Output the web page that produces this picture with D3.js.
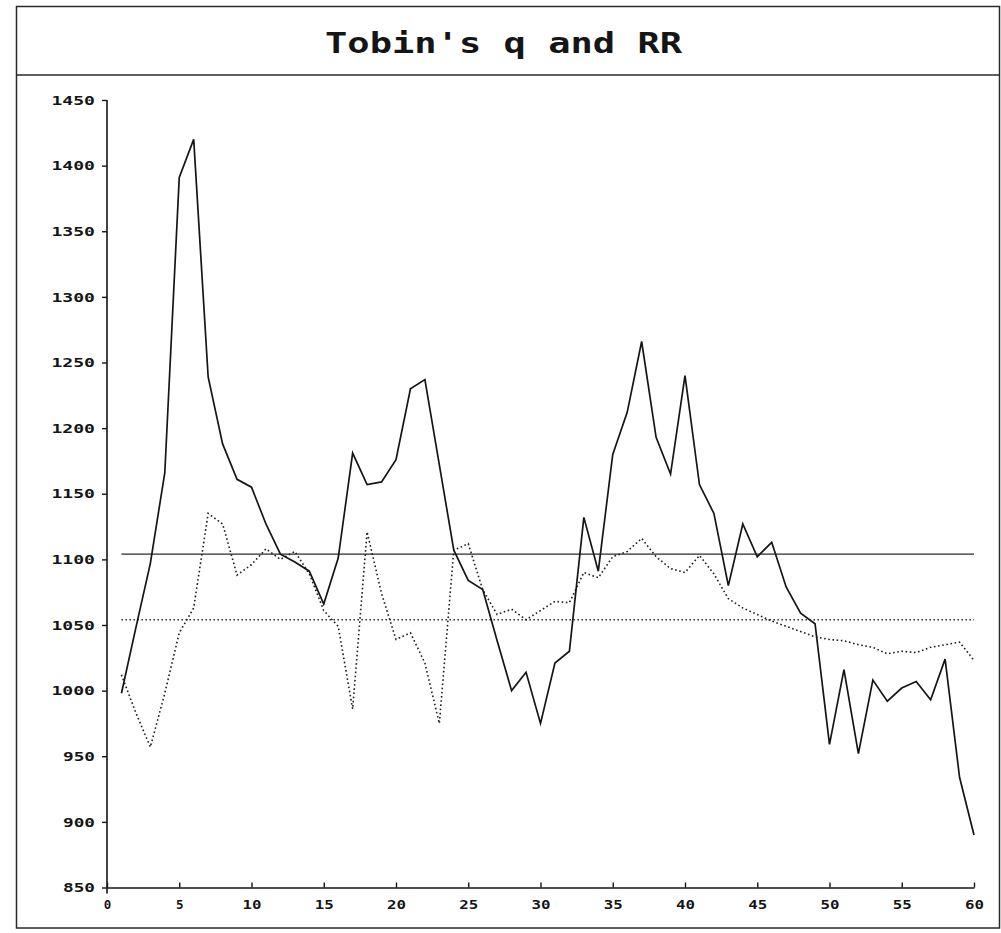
<!DOCTYPE html>
<html>
<head>
<meta charset="utf-8">
<script src="https://cdn.jsdelivr.net/npm/d3@7"></script>
<style>
  html, body { margin: 0; padding: 0; background: #fff; }
  svg { display: block; }
</style>
</head>
<body>
<svg id="chart" width="1001" height="933"></svg>
<script>
// ---- data ----
const chartTitle = "Tobin's q and RR";
const periods = [1,2,3,4,5,6,7,8,9,10,11,12,13,14,15,16,17,18,19,20,
                 21,22,23,24,25,26,27,28,29,30,31,32,33,34,35,36,37,38,39,40,
                 41,42,43,44,45,46,47,48,49,50,51,52,53,54,55,56,57,58,59,60];
const tobinQ = [998,1048,1097,1166,1391,1420,1239,1188,1161,1155,
                1127,1104,1098,1091,1066,1101,1181,1157,1159,1176,
                1230,1237,1172,1107,1084,1077,1038,1000,1014,975,
                1021,1030,1132,1091,1180,1212,1266,1193,1165,1240,
                1157,1135,1080,1127,1102,1113,1079,1059,1051,959,
                1016,952,1008,992,1002,1007,993,1024,934,890];
const rrSeries = [1012,983,957,998,1044,1063,1135,1127,1088,1096,
                  1108,1100,1106,1089,1061,1049,986,1121,1074,1039,
                  1044,1021,975,1107,1112,1077,1058,1062,1054,1061,
                  1068,1067,1090,1086,1102,1106,1116,1102,1093,1090,
                  1103,1089,1070,1063,1058,1053,1049,1045,1041,1039,
                  1038,1035,1033,1028,1030,1029,1033,1035,1037,1023];
const qMeanLevel = 1104;
const rrMeanLevel = 1054;
const xTicks = [0,5,10,15,20,25,30,35,40,45,50,55,60];
const yTicks = [850,900,950,1000,1050,1100,1150,1200,1250,1300,1350,1400,1450];

// ---- layout ----
const svg = d3.select("#chart");
const ink = "#151515";
const monoFont = "'DejaVu Sans Mono', 'Liberation Mono', monospace";

const x = d3.scaleLinear().domain([0, 60]).range([107, 974]);
const y = d3.scaleLinear().domain([850, 1450]).range([887.5, 100]);

// outer frame and title band
svg.append("rect")
  .attr("x", 16.5).attr("y", 6.5).attr("width", 983).attr("height", 921.5)
  .attr("fill", "none").attr("stroke", "#2a2a2a").attr("stroke-width", 1.5);
svg.append("line")
  .attr("x1", 16.5).attr("x2", 999.5).attr("y1", 75).attr("y2", 75)
  .attr("stroke", "#2a2a2a").attr("stroke-width", 1.5);

svg.append("text")
  .attr("x", 503.5).attr("y", 53)
  .attr("text-anchor", "middle")
  .attr("textLength", 357)
  .attr("lengthAdjust", "spacingAndGlyphs")
  .style("font-family", monoFont)
  .style("font-size", "28px")
  .style("font-weight", "bold")
  .attr("fill", ink)
  .text(chartTitle);

// axes
const yAxis = d3.axisLeft(y).tickValues(yTicks).tickFormat(d3.format("d"))
  .tickSize(5).tickSizeOuter(0).tickPadding(6);
const gy = svg.append("g").attr("transform", `translate(${x(0)},0)`).call(yAxis);
gy.select(".domain").attr("stroke", ink).attr("stroke-width", 1.6)
  .attr("d", `M0,${y(1450)}V${y(850) + 6}`);
gy.selectAll(".tick line").attr("stroke", ink).attr("stroke-width", 1.4);
gy.selectAll(".tick text")
  .attr("x", -12)
  .attr("textLength", d => String(d).length * 11.5 - 2.5)
  .attr("lengthAdjust", "spacingAndGlyphs")
  .style("font-family", monoFont)
  .style("font-size", "13px")
  .style("font-weight", "bold")
  .attr("fill", ink);

const xAxis = d3.axisBottom(x).tickValues(xTicks).tickFormat(d3.format("d"))
  .tickSize(-5).tickSizeOuter(0).tickPadding(12.5);
const gx = svg.append("g").attr("transform", `translate(0,${y(850)})`).call(xAxis);
gx.select(".domain").attr("stroke", ink).attr("stroke-width", 1.6);
gx.selectAll(".tick line").attr("stroke", ink).attr("stroke-width", 1.4);
gx.selectAll(".tick text")
  .attr("textLength", d => String(d).length * 11.5 - 4)
  .attr("lengthAdjust", "spacingAndGlyphs")
  .style("font-family", monoFont)
  .style("font-size", "12.5px")
  .style("font-weight", "bold")
  .attr("fill", ink);

// mean reference lines
svg.append("line")
  .attr("x1", x(periods[0])).attr("x2", x(periods[periods.length - 1]))
  .attr("y1", y(qMeanLevel)).attr("y2", y(qMeanLevel))
  .attr("stroke", "#2b2b2b").attr("stroke-width", 1.3);
svg.append("line")
  .attr("x1", x(periods[0])).attr("x2", x(periods[periods.length - 1]))
  .attr("y1", y(rrMeanLevel)).attr("y2", y(rrMeanLevel))
  .attr("stroke", "#2b2b2b").attr("stroke-width", 1.4)
  .attr("stroke-dasharray", "1.5,2.5");

// series
const line = d3.line().x(d => x(d[0])).y(d => y(d[1]));
svg.append("path")
  .datum(periods.map((p, i) => [p, rrSeries[i]]))
  .attr("d", line)
  .attr("fill", "none")
  .attr("stroke", "#1e1e1e").attr("stroke-width", 1.6)
  .attr("stroke-dasharray", "1.6,2.6");
svg.append("path")
  .datum(periods.map((p, i) => [p, tobinQ[i]]))
  .attr("d", line)
  .attr("fill", "none")
  .attr("stroke", ink).attr("stroke-width", 1.7)
  .attr("stroke-linejoin", "miter");
</script>
</body>
</html>
